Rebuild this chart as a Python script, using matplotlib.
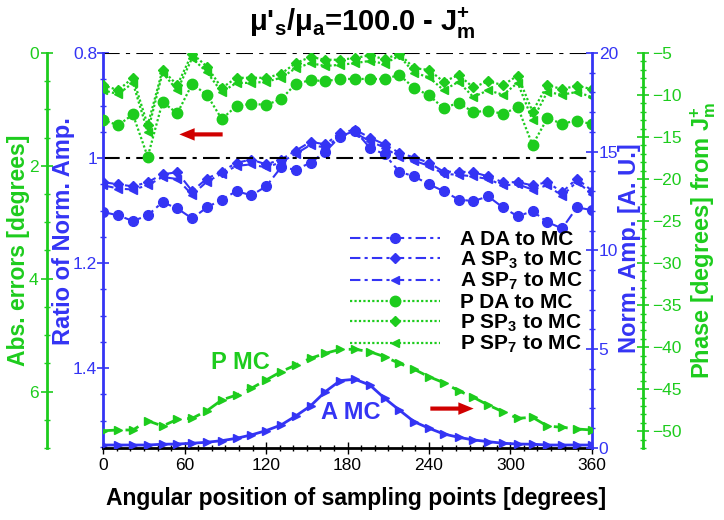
import numpy as np
import matplotlib
matplotlib.use('Agg')
import matplotlib.pyplot as plt
from matplotlib.ticker import MultipleLocator

plt.rcParams['font.family'] = ['Liberation Sans', 'DejaVu Sans']
plt.rcParams['mathtext.fontset'] = 'custom'
plt.rcParams['mathtext.rm'] = 'Liberation Sans'
plt.rcParams['mathtext.bf'] = 'Liberation Sans:bold'
plt.rcParams['mathtext.it'] = 'Liberation Sans:italic'

BLUE = '#3434f4'
GREEN = '#1dcc1d'
RED = '#d00000'

# sampling angles (34 points, 0..360 deg)
angles = np.arange(34) * 360 / 33

# phase abs. errors [deg] (left green axis)
p_da_err = [1.19, 1.28, 1.09, 1.84, 0.87, 1.07, 0.55, 0.74, 1.17, 0.94, 0.90, 0.92,
            0.82, 0.55, 0.48, 0.50, 0.46, 0.46, 0.46, 0.46, 0.39, 0.62, 0.75, 0.98,
            0.88, 1.05, 1.02, 1.08, 0.96, 1.63, 1.16, 1.25, 1.20, 1.26]
p_sp3_err = [0.57, 0.66, 0.44, 1.28, 0.30, 0.57, 0.01, 0.24, 0.62, 0.44, 0.44, 0.44,
             0.37, 0.18, 0.07, 0.12, 0.12, 0.09, 0.04, 0.11, 0.01, 0.27, 0.30, 0.51,
             0.39, 0.61, 0.50, 0.57, 0.40, 1.04, 0.57, 0.64, 0.58, 0.64]
p_sp7_err = [0.66, 0.73, 0.53, 1.40, 0.35, 0.66, 0.09, 0.34, 0.69, 0.53, 0.53, 0.51,
             0.44, 0.27, 0.18, 0.23, 0.21, 0.18, 0.14, 0.19, 0.05, 0.35, 0.43, 0.66,
             0.51, 0.78, 0.66, 0.74, 0.53, 1.19, 0.69, 0.74, 0.69, 0.78]

# ratio of normalized amplitude (left blue axis)
a_da_ratio = [1.103, 1.109, 1.120, 1.109, 1.084, 1.096, 1.115, 1.094, 1.079, 1.063, 1.071, 1.054,
              1.018, 1.022, 1.009, 0.988, 0.959, 0.948, 0.980, 0.993, 1.026, 1.035, 1.050, 1.063,
              1.079, 1.082, 1.073, 1.094, 1.111, 1.101, 1.122, 1.134, 1.094, 1.099]
a_sp3_ratio = [1.046, 1.050, 1.054, 1.046, 1.031, 1.027, 1.063, 1.039, 1.026, 1.009, 1.003, 1.012,
               1.003, 0.986, 0.969, 0.974, 0.952, 0.946, 0.961, 0.974, 0.990, 0.999, 1.009, 1.026,
               1.026, 1.027, 1.035, 1.046, 1.046, 1.052, 1.046, 1.065, 1.039, 1.062]
a_sp7_ratio = [1.052, 1.058, 1.060, 1.052, 1.036, 1.040, 1.070, 1.045, 1.030, 1.015, 1.012, 1.018,
               1.008, 0.992, 0.975, 0.980, 0.958, 0.952, 0.968, 0.980, 0.998, 1.005, 1.015, 1.030,
               1.032, 1.035, 1.040, 1.052, 1.050, 1.060, 1.052, 1.072, 1.045, 1.068]

# MC reference (right axes)
p_mc_phase = [-49.95, -49.86, -49.86, -48.76, -49.39, -48.59, -48.47, -47.57, -46.29, -45.70, -44.90, -43.91,
              -42.93, -42.13, -41.33, -40.74, -40.26, -40.26, -40.54, -41.14, -41.93, -42.64, -43.52, -44.23,
              -45.19, -45.97, -46.89, -47.69, -48.47, -48.35, -49.39, -49.54, -49.74, -49.86]
a_mc_amp = [0.15, 0.15, 0.15, 0.15, 0.19, 0.20, 0.24, 0.29, 0.37, 0.49, 0.66, 0.88,
            1.16, 1.62, 2.13, 2.85, 3.41, 3.48, 3.19, 2.52, 1.92, 1.33, 1.00, 0.71,
            0.54, 0.41, 0.32, 0.24, 0.20, 0.19, 0.15, 0.15, 0.15, 0.15]

fig = plt.figure(figsize=(7.24, 5.2), dpi=100)
ax = fig.add_axes([0.1427, 0.1385, 0.6746, 0.7596])
ax_err = ax.twinx()
ax_amp = ax.twinx()
ax_ph = ax.twinx()

dd = (0, (5, 2, 1.5, 2))
dot = (0, (1, 1))

# ratio curves
l1, = ax.plot(angles, a_da_ratio, color=BLUE, ls=dd, lw=1.5, marker='o', ms=7, label='A DA to MC')
l2, = ax.plot(angles, a_sp3_ratio, color=BLUE, ls=dd, lw=1.5, marker='D', ms=5, label=r'A SP$_\mathbf{3}$ to MC')
l3, = ax.plot(angles, a_sp7_ratio, color=BLUE, ls=dd, lw=1.5, marker='<', ms=6, label=r'A SP$_\mathbf{7}$ to MC')
ax.axhline(0.8, color='black', ls=(0, (8, 3, 2, 3)), lw=1.5)
ax.axhline(1.0, color='black', ls=(0, (8, 3, 2, 3)), lw=1.5)

# phase error curves
l4, = ax_err.plot(angles, p_da_err, color=GREEN, ls=dot, lw=1.6, marker='o', ms=7.5, label='P DA to MC')
l5, = ax_err.plot(angles, p_sp3_err, color=GREEN, ls=dot, lw=1.6, marker='D', ms=5, label=r'P SP$_\mathbf{3}$ to MC')
l6, = ax_err.plot(angles, p_sp7_err, color=GREEN, ls=dot, lw=1.6, marker='<', ms=6, label=r'P SP$_\mathbf{7}$ to MC')

# MC curves
ax_amp.plot(angles, a_mc_amp, color=BLUE, lw=2, marker='>', ms=5.5)
ax_ph.plot(angles, p_mc_phase, color=GREEN, ls=(0, (5, 3)), lw=2, marker='>', ms=5.5)

ax.set_xlim(0, 360)
ax.set_ylim(1.552, 0.8)
ax_err.set_ylim(7, 0)
ax_amp.set_ylim(0, 20)
ax_ph.set_ylim(-52, -5)

# spines
for a in (ax, ax_err, ax_amp, ax_ph):
    for s in a.spines.values():
        s.set_visible(False)
ax.spines['bottom'].set_visible(True)
ax.spines['bottom'].set_linewidth(2)
ax.spines['left'].set_visible(True)
ax.spines['left'].set_color(BLUE)
ax.spines['left'].set_linewidth(2)

ax_err.yaxis.set_ticks_position('left')
ax_err.yaxis.set_label_position('left')
ax_err.spines['left'].set_visible(True)
ax_err.spines['left'].set_position(('axes', -0.1153))
ax_err.spines['left'].set_color(GREEN)
ax_err.spines['left'].set_linewidth(2)

ax_amp.spines['right'].set_visible(True)
ax_amp.spines['right'].set_color(BLUE)
ax_amp.spines['right'].set_linewidth(2)

ax_ph.spines['right'].set_visible(True)
ax_ph.spines['right'].set_position(('axes', 1.105))
ax_ph.spines['right'].set_color(GREEN)
ax_ph.spines['right'].set_linewidth(2)

# ticks
ax.xaxis.set_major_locator(MultipleLocator(60))
ax.xaxis.set_minor_locator(MultipleLocator(10))
ax.tick_params(axis='x', which='both', direction='inout', labelsize=12.5, pad=3)
ax.tick_params(axis='x', which='major', length=8, width=1)
ax.tick_params(axis='x', which='minor', length=5, width=1)

ax.set_yticks([0.8, 1.0, 1.2, 1.4])
ax.set_yticklabels(['0.8', '1', '1.2', '1.4'])
ax.yaxis.set_minor_locator(MultipleLocator(0.05))
ax_err.yaxis.set_major_locator(MultipleLocator(2))
ax_err.yaxis.set_minor_locator(MultipleLocator(0.5))
ax_amp.yaxis.set_major_locator(MultipleLocator(5))
ax_amp.yaxis.set_minor_locator(MultipleLocator(1))
ax_ph.yaxis.set_major_locator(MultipleLocator(5))
ax_ph.yaxis.set_minor_locator(MultipleLocator(1))

for a, c, p in ((ax, BLUE, 0.5), (ax_err, GREEN, 2), (ax_amp, BLUE, 1), (ax_ph, GREEN, 2.5)):
    a.tick_params(axis='y', which='both', direction='inout', colors=c, labelsize=12.5, pad=p)
    a.tick_params(axis='y', which='major', length=8, width=1.2)
    a.tick_params(axis='y', which='minor', length=5, width=1)

# labels
ax.set_xlabel('Angular position of sampling points [degrees]', fontsize=16.5, fontweight='bold')
ax.xaxis.set_label_coords(0.517, -0.1)
ax.set_ylabel('Ratio of Norm. Amp.', fontsize=17, fontweight='bold', color=BLUE)
ax.yaxis.set_label_coords(-0.058, 0.55)
ax_err.set_ylabel('Abs. errors [degrees]', fontsize=16.5, fontweight='bold', color=GREEN)
ax_err.yaxis.set_label_coords(-0.151, 0.5)
ax_amp.set_ylabel('Norm. Amp. [A. U.]', fontsize=17, fontweight='bold', color=BLUE)
ax_amp.yaxis.set_label_coords(1.053, 0.505)
ax_ph.set_ylabel(r'Phase [degrees] from J$_\mathbf{m}^\mathbf{+}$', fontsize=17, fontweight='bold', color=GREEN)
ax_ph.yaxis.set_label_coords(1.197, 0.525)

fig.text(0.5, 0.955, r"μ'$_\mathbf{s}$/μ$_\mathbf{a}$=100.0 - J$_\mathbf{m}^\mathbf{+}$",
         ha='center', va='center', fontsize=21, fontweight='bold')

# curve labels and arrows
ax.text(101, 1.39, 'P MC', color=GREEN, fontsize=17, fontweight='bold', ha='center', va='center')
ax.text(182.5, 1.484, 'A MC', color=BLUE, fontsize=17, fontweight='bold', ha='center', va='center')
arrow = dict(arrowstyle='simple,head_length=1.1,head_width=0.9,tail_width=0.3', color=RED, lw=0)
ax.annotate('', xy=(54, 0.955), xytext=(90, 0.955), arrowprops=arrow)
ax.annotate('', xy=(275, 1.477), xytext=(239, 1.477), arrowprops=arrow)

leg = ax_ph.legend(handles=[l1, l2, l3, l4, l5, l6], loc='upper left',
                   bbox_to_anchor=(350 / 724, 1 - 230 / 520), bbox_transform=fig.transFigure,
                   frameon=False, numpoints=1, handlelength=4.3, handletextpad=1.0,
                   labelspacing=0.02, borderpad=0, borderaxespad=0,
                   prop={'size': 15, 'weight': 'bold'})

fig.savefig('out.png', dpi=100)
